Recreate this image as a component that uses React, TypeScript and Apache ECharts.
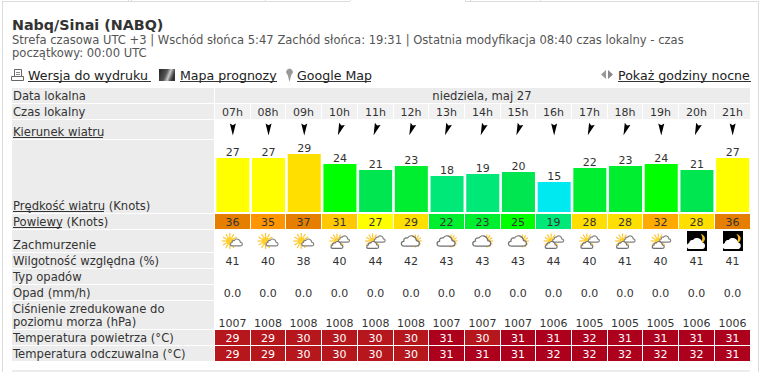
import React, { useEffect, useRef } from "react";
import * as echarts from "echarts";

const hours = ["07h","08h","09h","10h","11h","12h","13h","14h","15h","16h","17h","18h","19h","20h","21h"];
const windDirection = [0,0,0,20,20,20,20,20,20,0,20,20,0,20,0];
const windSpeed = [27,27,29,24,21,23,18,19,20,15,22,23,24,21,27];
const gusts = [36,35,37,31,27,29,22,23,25,19,28,28,32,28,36];
const cloudiness = ["sun","sun","sun","mixed","mixed","cloud","cloud","cloud","cloud","mixed","mixed","mixed","mixed","night","night"];
const humidity = [41,40,38,40,44,42,43,43,43,44,40,41,40,41,41];
const precipitation = [0,0,0,0,0,0,0,0,0,0,0,0,0,0,0];
const pressure = [1007,1008,1008,1008,1008,1008,1007,1007,1007,1006,1005,1005,1005,1006,1006];
const airTemp = [29,29,30,30,30,30,31,30,31,31,32,31,31,31,31];
const feelsTemp = [29,29,30,30,30,30,31,31,31,32,32,32,32,32,31];

const FONT = "DejaVu Sans, Verdana, sans-serif";
const TEXT = "#333333";
const GREY = "#ececec";
const LEFT = 215;
const WIDTH = 535.5;

function windColor(v: number) {
  if (v <= 15) return "#00e8f0";
  if (v <= 19) return "#00e878";
  if (v <= 21) return "#00e650";
  if (v <= 23) return "#00ee30";
  if (v <= 25) return "#00ff00";
  if (v <= 27) return "#ffff00";
  if (v <= 29) return "#ffdf00";
  if (v <= 31) return "#ffc800";
  if (v <= 32) return "#ffaa00";
  if (v <= 35) return "#ff9500";
  return "#e67e00";
}
const tempColor = (v: number) => (v <= 30 ? "#b5171d" : "#ad001d");

const CLOUD = "M-5 5 H5 C8.5 5 8.5 0.5 5.2 0.3 C4.8 -3.2 0 -5.8 -2.5 -2 C-4.8 -2.6 -5.8 -0.6 -5.5 0.6 C-8.5 1 -8.5 5 -5 5 Z";
const MOON = "M2 -6 C5 -3 5 3 0 6 C5 6 8 2 7 -2 C6 -4 4 -6 2 -6 Z";

function cloudEl(cx: number, cy: number, w: number, h: number, fill: string, stroke: string) {
  return {
    type: "path",
    shape: { pathData: CLOUD, x: cx - w / 2, y: cy - h / 2, width: w, height: h },
    style: { fill, stroke, lineWidth: 1.2 },
  };
}
function sunEls(cx: number, cy: number, r: number, rayLen: number) {
  const out: any[] = [];
  for (let k = 0; k < 12; k++) {
    const a = (k * Math.PI) / 6;
    out.push({
      type: "line",
      shape: { x1: cx + Math.cos(a) * r, y1: cy + Math.sin(a) * r, x2: cx + Math.cos(a) * rayLen, y2: cy + Math.sin(a) * rayLen },
      style: { stroke: "#ffc52e", lineWidth: 1.2 },
    });
  }
  out.push({ type: "circle", shape: { cx, cy, r }, style: { fill: "#ffcf2a" } });
  return out;
}
function iconEls(kind: string, c: number, y: number) {
  if (kind === "sun") {
    return [...sunEls(c - 3, y, 4, 8), cloudEl(c + 3.5, y + 1.5, 12, 8, "#ffffff", "#808080")];
  }
  if (kind === "mixed") {
    return [
      ...sunEls(c - 3, y, 3.5, 7.5),
      cloudEl(c + 4, y - 2, 11, 7, "#ffffff", "#808080"),
      cloudEl(c - 3, y + 4, 12, 7, "#ffffff", "#707070"),
    ];
  }
  if (kind === "cloud") {
    return [...sunEls(c + 4, y, 3, 6.5), cloudEl(c - 1, y, 18, 11, "#ffffff", "#707070")];
  }
  return [
    { type: "rect", shape: { x: Math.round(c) - 10, y: y - 10, width: 20, height: 20 }, style: { fill: "#000000" } },
    { type: "path", shape: { pathData: MOON, x: c + 2, y: y - 7.5, width: 6, height: 11 }, style: { fill: "#f2b91f" } },
    cloudEl(c - 1, y + 2.5, 17, 10, "#ffffff", "#ffffff"),
  ];
}

const rowGrids: [string, number, number][] = [
  ["hours", 104, 15],
  ["arrows", 120, 19],
  ["bars", 132, 80],
  ["gusts", 214, 15],
  ["icons", 231, 20],
  ["humidity", 253, 15],
  ["precipitation", 285, 15],
  ["pressure", 315, 15],
  ["air", 330, 15],
  ["feels", 346, 15],
];
const idx = (name: string) => rowGrids.findIndex((r) => r[0] === name);

function cellSeries(name: string, texts: string[], values: number[], fill: ((v: number) => string) | null, color: string) {
  const g = idx(name);
  return {
    type: "custom",
    name,
    xAxisIndex: g,
    yAxisIndex: g,
    clip: false,
    silent: true,
    data: texts.map((_, i) => [i, 0.5, values[i]]),
    encode: { x: 0, y: 1 },
    renderItem: (params: any, api: any) => {
      const i = api.value(0);
      const c = api.coord([i, 0.5]);
      const w = api.size([1, 0])[0];
      const x0 = Math.round(c[0] - w / 2);
      const x1 = Math.round(c[0] + w / 2) - 1;
      const cs = params.coordSys;
      const children: any[] = [];
      if (fill) {
        children.push({
          type: "rect",
          shape: { x: x0, y: cs.y, width: x1 - x0, height: cs.height },
          style: { fill: fill(api.value(2)) },
        });
      }
      children.push({
        type: "text",
        style: {
          text: texts[i],
          x: (x0 + x1) / 2,
          y: cs.y + cs.height / 2 + 1,
          align: "center",
          verticalAlign: "middle",
          font: `11px ${FONT}`,
          fill: color,
        },
      });
      return { type: "group", children };
    },
  };
}

const labels: [string, number][] = [
  ["Data lokalna", 96],
  ["Czas lokalny", 112],
  ["Kierunek wiatru", 132],
  ["Prędkość wiatru (Knots)", 206],
  ["Powiewy (Knots)", 222],
  ["Zachmurzenie", 245],
  ["Wilgotność względna (%)", 261],
  ["Typ opadów", 277],
  ["Opad (mm/h)", 293],
  ["Ciśnienie zredukowane do", 309],
  ["poziomu morza (hPa)", 322],
  ["Temperatura powietrza (°C)", 338],
  ["Temperatura odczuwalna (°C)", 354],
];
const labelBands: [number, number, number][] = [
  [88, 15, 738],
  [104, 15, 202],
  [120, 19, 202],
  [140, 73, 202],
  [214, 15, 202],
  [230, 22, 202],
  [253, 15, 202],
  [269, 15, 202],
  [285, 15, 202],
  [301, 28, 202],
  [330, 15, 202],
  [346, 15, 202],
  [370, 2, 738],
];
const underlines: [number, number, number][] = [
  [28, 151, 81.5],
  [180, 277, 81.5],
  [297, 371, 81.5],
  [618, 751, 81.5],
  [13, 103, 137.5],
  [13, 104, 211.5],
  [13, 62, 227.5],
];
const pageTexts: [string, number, number, string, string][] = [
  ["Nabq/Sinai (NABQ)", 12, 25, `bold 14.3px ${FONT}`, "#333333"],
  ["Strefa czasowa UTC +3 | Wschód słońca 5:47 Zachód słońca: 19:31 | Ostatnia modyfikacja 08:40 czas lokalny - czas", 12, 40, `11.55px ${FONT}`, "#555555"],
  ["początkowy: 00:00 UTC", 12, 53, `11.55px ${FONT}`, "#555555"],
  ["Wersja do wydruku", 28, 75, `12.6px ${FONT}`, "#222222"],
  ["Mapa prognozy", 180, 75, `12.6px ${FONT}`, "#222222"],
  ["Google Map", 297, 75, `12.6px ${FONT}`, "#222222"],
  ["Pokaż godziny nocne", 618, 75, `12.6px ${FONT}`, "#222222"],
];

function chromeGraphics() {
  const g: any[] = [];
  const line = (x1: number, y1: number, x2: number, y2: number, stroke = "#dcdcdc", lineWidth = 1) =>
    g.push({ type: "line", shape: { x1, y1, x2, y2 }, style: { stroke, lineWidth } });
  line(2.5, 1, 2.5, 372);
  line(3, 1.5, 350, 1.5);
  line(465, 1.5, 758, 1.5);
  line(758.5, 1, 758.5, 372);
  line(128.5, 0, 128.5, 1);
  line(131.5, 0, 131.5, 1);
  line(265.5, 0, 265.5, 1);
  line(350.5, 0, 350.5, 1);
  line(465.5, 0, 465.5, 1);
  line(470.5, 0, 470.5, 1);
  line(540.5, 0, 540.5, 1);

  labelBands.forEach(([y, h, w]) => {
    g.push({ type: "rect", shape: { x: 12, y, width: w, height: h }, style: { fill: GREY } });
  });
  g.push({ type: "line", shape: { x1: 214.5, y1: 88, x2: 214.5, y2: 103 }, style: { stroke: "#ffffff", lineWidth: 1 } });

  pageTexts.forEach(([text, x, y, font, fill]) => {
    g.push({ type: "text", style: { text, x, y, font, fill, verticalAlign: "middle" } });
  });
  labels.forEach(([text, y]) => {
    g.push({ type: "text", style: { text, x: 13, y, font: `11.6px ${FONT}`, fill: TEXT, verticalAlign: "middle" } });
  });
  g.push({
    type: "text",
    style: { text: "niedziela, maj 27", x: 482, y: 96, font: `11.6px ${FONT}`, fill: TEXT, align: "center", verticalAlign: "middle" },
  });
  underlines.forEach(([a, b, y]) => line(a, y, b, y, "#333333"));

  // printer
  g.push({ type: "rect", shape: { x: 14.5, y: 69.5, width: 7, height: 7 }, style: { fill: "#fff", stroke: "#666", lineWidth: 1 } });
  g.push({ type: "rect", shape: { x: 11.5, y: 76.5, width: 12, height: 4 }, style: { fill: "#fff", stroke: "#666", lineWidth: 1 } });
  line(16, 72.5, 20, 72.5, "#888");
  line(16, 74.5, 20, 74.5, "#888");
  // map thumbnail
  g.push({
    type: "rect",
    shape: { x: 159, y: 69, width: 16, height: 12 },
    style: {
      fill: new echarts.graphic.LinearGradient(0, 0, 1, 0.3, [
        { offset: 0, color: "#222222" },
        { offset: 0.5, color: "#555555" },
        { offset: 0.72, color: "#c8c8c8" },
        { offset: 0.85, color: "#777777" },
        { offset: 1, color: "#333333" },
      ]),
    },
  });
  // pin
  g.push({ type: "circle", shape: { cx: 289.5, cy: 72, r: 3 }, style: { fill: "#9a9a9a", stroke: "#777", lineWidth: 0.5 } });
  g.push({ type: "polygon", shape: { points: [[287.5, 74], [291.5, 74], [289.5, 82]] }, style: { fill: "#999999" } });
  // arrows left and right
  g.push({ type: "polygon", shape: { points: [[606, 70], [606, 79], [601, 74.5]] }, style: { fill: "#999999" } });
  g.push({ type: "polygon", shape: { points: [[608, 70], [608, 79], [613, 74.5]] }, style: { fill: "#888888" } });
  return g;
}

const App = () => {
  const ref = useRef<HTMLDivElement>(null);
  useEffect(() => {
    document.body.style.margin = "0";
    const chart = echarts.init(ref.current!, null, { renderer: "svg", width: 761, height: 372 });
    const grid = rowGrids.map(([, top, height]) => ({ left: LEFT, width: WIDTH, top, height, show: false }));
    const xAxis = rowGrids.map((_, i) => ({ type: "category", gridIndex: i, data: hours, show: false }));
    const yAxis = rowGrids.map(([name], i) => ({
      type: "value",
      gridIndex: i,
      show: false,
      min: 0,
      max: name === "bars" ? 40 : 1,
    }));
    const str = (a: number[]) => a.map((v) => String(v));
    chart.setOption({
      animation: false,
      backgroundColor: "#ffffff",
      grid,
      xAxis,
      yAxis,
      graphic: { elements: chromeGraphics() },
      series: [
        cellSeries("hours", hours, hours.map(() => 0), () => "#f1f1f1", TEXT),
        {
          type: "scatter",
          xAxisIndex: idx("arrows"),
          yAxisIndex: idx("arrows"),
          silent: true,
          symbol: "path://M0 0 L5 4 L10 0 L5 26 Z",
          symbolSize: [6, 12],
          itemStyle: { color: "#000000", opacity: 1 },
          data: windDirection.map((d, i) => ({ value: [i, 0.5], symbolRotate: -d })),
        },
        {
          type: "bar",
          xAxisIndex: idx("bars"),
          yAxisIndex: idx("bars"),
          silent: true,
          barWidth: 33,
          data: windSpeed.map((v) => ({ value: v, itemStyle: { color: windColor(v) } })),
          label: { show: true, position: "top", distance: 0, color: TEXT, fontFamily: "DejaVu Sans", fontSize: 11 },
        },
        cellSeries("gusts", str(gusts), gusts, windColor, TEXT),
        {
          type: "custom",
          xAxisIndex: idx("icons"),
          yAxisIndex: idx("icons"),
          clip: false,
          silent: true,
          data: cloudiness.map((_, i) => [i, 0.5]),
          encode: { x: 0, y: 1 },
          renderItem: (params: any, api: any) => {
            const c = api.coord([api.value(0), 0.5]);
            return { type: "group", children: iconEls(cloudiness[params.dataIndex], c[0], c[1]) };
          },
        },
        cellSeries("humidity", str(humidity), humidity, null, TEXT),
        cellSeries("precipitation", precipitation.map((v) => v.toFixed(1)), precipitation, null, TEXT),
        cellSeries("pressure", str(pressure), pressure, null, TEXT),
        cellSeries("air", str(airTemp), airTemp, tempColor, "#ffffff"),
        cellSeries("feels", str(feelsTemp), feelsTemp, tempColor, "#ffffff"),
      ],
    });
    return () => chart.dispose();
  }, []);
  return <div ref={ref} style={{ width: 761, height: 372, overflow: "hidden" }} />;
};

export default App;
